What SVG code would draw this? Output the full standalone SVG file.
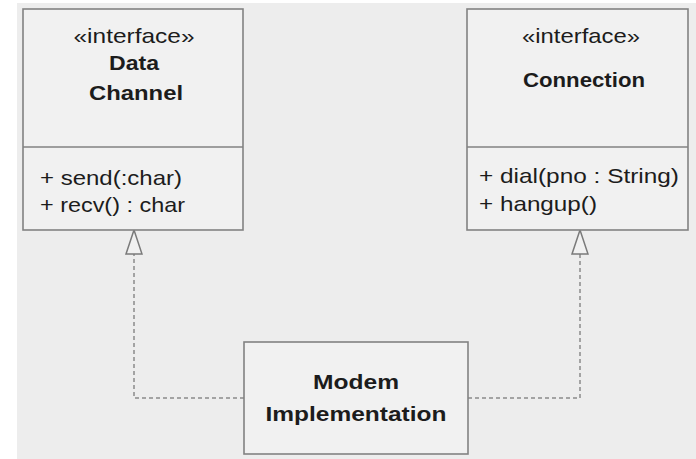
<svg xmlns="http://www.w3.org/2000/svg" width="696" height="459" viewBox="0 0 696 459">
  <defs>
    <style>
      .bg { fill: #ededed; }
      .box { fill: #f1f1f1; stroke: #828282; stroke-width: 1.6; }
      .sep { stroke: #828282; stroke-width: 1.6; }
      .t { font-family: "Liberation Sans", Arial, sans-serif; font-size: 21px; fill: #1c1c1c; }
      .c { text-anchor: middle; }
      .b { font-weight: bold; }
      .dep { fill: none; stroke: #8a8a8a; stroke-width: 1.5; stroke-dasharray: 4 3; }
    </style>
    <!-- hollow triangle for realization -->
    <marker id="realize" markerUnits="userSpaceOnUse" viewBox="0 0 26 18" refX="25" refY="9" markerWidth="26" markerHeight="18" orient="auto">
      <path d="M1,1 L25,9 L1,17 Z" fill="#f1f1f1" stroke="#7a7a7a" stroke-width="1.5"/>
    </marker>
  </defs>

  <rect x="0" y="0" width="696" height="459" fill="#ffffff"/>
  <rect class="bg" x="17" y="3" width="679" height="456"/>

  <g id="connectors">
    <path class="dep" d="M244,398 H134 V230" marker-end="url(#realize)"/>
    <path class="dep" d="M468,398 H580 V230" marker-end="url(#realize)"/>
  </g>

  <g id="data-channel">
    <rect class="box" x="23" y="9" width="220" height="221"/>
    <line class="sep" x1="23" y1="147" x2="243" y2="147"/>
    <text class="t c" x="134" y="43" textLength="121" lengthAdjust="spacingAndGlyphs">«interface»</text>
    <text class="t c b" x="134" y="70" textLength="50" lengthAdjust="spacingAndGlyphs">Data</text>
    <text class="t c b" x="136" y="100" textLength="94" lengthAdjust="spacingAndGlyphs">Channel</text>
    <text class="t" x="40" y="185" textLength="142" lengthAdjust="spacingAndGlyphs">+ send(:char)</text>
    <text class="t" x="40" y="212" textLength="145" lengthAdjust="spacingAndGlyphs">+ recv() : char</text>
  </g>

  <g id="connection">
    <rect class="box" x="467" y="9" width="221" height="221"/>
    <line class="sep" x1="467" y1="147" x2="688" y2="147"/>
    <text class="t c" x="581" y="43" textLength="118" lengthAdjust="spacingAndGlyphs">«interface»</text>
    <text class="t c b" x="584" y="87" textLength="122" lengthAdjust="spacingAndGlyphs">Connection</text>
    <text class="t" x="479" y="183" textLength="200" lengthAdjust="spacingAndGlyphs">+ dial(pno : String)</text>
    <text class="t" x="479" y="211" textLength="118" lengthAdjust="spacingAndGlyphs">+ hangup()</text>
  </g>

  <g id="modem-implementation">
    <rect class="box" x="244" y="342" width="224" height="112"/>
    <text class="t c b" x="356" y="389" textLength="86" lengthAdjust="spacingAndGlyphs">Modem</text>
    <text class="t c b" x="356" y="421" textLength="181" lengthAdjust="spacingAndGlyphs">Implementation</text>
  </g>
</svg>
